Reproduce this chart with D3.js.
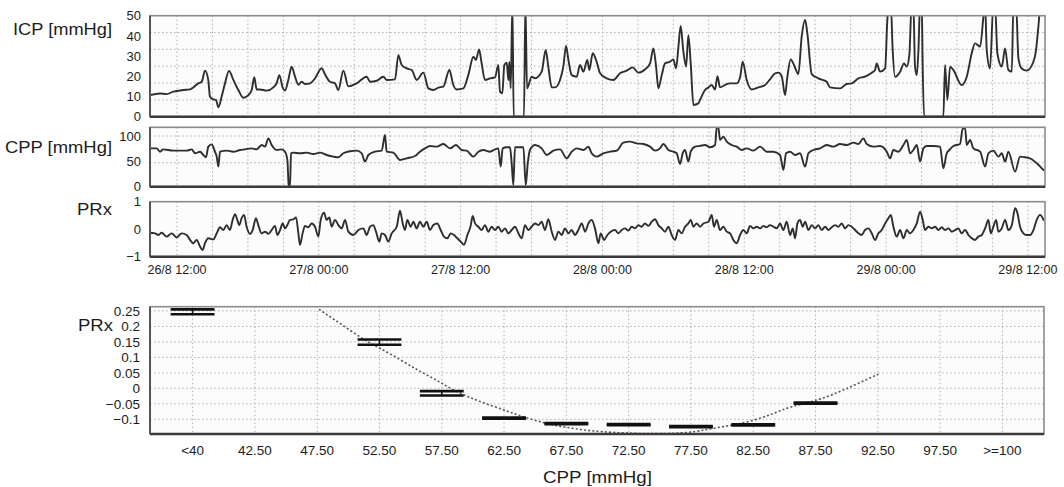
<!DOCTYPE html>
<html><head><meta charset="utf-8">
<script src="https://cdn.jsdelivr.net/npm/d3@7"></script>
<style>
html,body{margin:0;padding:0;background:#fff;}
svg{display:block;font-family:"Liberation Sans",Arial,Helvetica,sans-serif;}
</style></head>
<body><svg id="chart" width="1064" height="487"></svg>
<script>
// ---------------- DATA ----------------
// time in hours since 26/8 00:00
const timeTickHours = [12, 24, 36, 48, 60, 72, 84];
const timeTickLabels = ["26/8 12:00","27/8 00:00","27/8 12:00","28/8 00:00","28/8 12:00","29/8 00:00","29/8 12:00"];

const icpTicks = [0,10,20,30,40,50];
const cppTicks = [0,50,100];
const prxTicks = [-1,0,1];

const icpData = [
[9.71,10.7],[10.56,11.5],[11.12,11.2],[11.69,12.4],[12.53,13.2],[13.10,13.5],[13.38,14.5],[13.80,16.5],[14.09,17.3],[14.37,22.8],
[14.65,18],[14.79,9.9],[15.07,8.6],[15.30,8.3],[15.50,4.6],[15.78,10],[16.06,16.5],[16.40,22.7],[16.77,18.2],[17.19,13.2],
[17.61,9.4],[18.04,10.7],[18.32,13.2],[18.54,19.5],[18.74,13.5],[19.02,13.5],[19.59,12.9],[20.15,14.5],[20.43,16.5],[20.66,20.6],
[20.94,14.5],[21.14,12.9],[21.42,18.2],[21.70,24.8],[21.98,20],[22.27,15.8],[22.55,17.3],[22.83,16.2],[23.25,16.5],[23.68,19],
[24.24,24],[24.52,21],[24.95,17.3],[25.37,16.5],[25.65,13.2],[26.08,22.8],[26.50,15],[27.20,16.5],[28.05,19.8],[28.33,17.3],
[28.90,17.8],[29.46,19.8],[29.74,18.2],[30.45,18.5],[30.73,30.5],[31.01,25.6],[31.44,23.9],[31.86,23.1],[32.28,18.2],[32.85,21.8],
[33.27,14.0],[33.69,13.2],[34.12,14.4],[34.54,14.9],[35.05,23.1],[35.38,15.7],[35.67,13.5],[36.23,14.0],[36.65,20.6],[37.08,29.7],
[37.30,28.1],[37.56,33.3],[37.78,26.4],[38.06,18.2],[38.49,19.0],[38.91,19.5],[39.19,25.6],[39.33,12.4],[39.53,11.6],[39.70,25.6],
[39.90,26.7],[40.04,18.2],[40.12,27.2],[40.24,14.0],[40.38,56],[40.49,0],[41.36,0],[41.48,56],[41.62,14],[42.01,19.8],
[42.30,19.0],[42.86,22.3],[43.20,33.0],[43.42,24.8],[43.71,14.5],[43.99,14.5],[44.41,18.2],[44.69,24.8],[44.92,35.0],[45.12,28.1],
[45.40,20.6],[45.82,19.8],[46.10,25.6],[46.39,22.3],[46.72,28.1],[46.89,23.1],[47.18,31.4],[47.51,27.2],[47.80,21.5],[48.36,19.0],
[48.93,18.2],[49.49,21.5],[50.05,22.8],[50.56,24.4],[51.04,21.8],[51.60,23.4],[52.03,26.4],[52.31,33.8],[52.54,24.8],[52.73,14.0],
[53.02,20.6],[53.30,26.4],[53.72,27.2],[54.00,28.4],[54.23,23.9],[54.43,34.7],[54.62,44.9],[54.85,32.2],[55.08,24.8],[55.27,40.4],
[55.47,26.4],[55.70,5.8],[56.12,6.6],[56.26,8.3],[56.68,13.2],[56.97,14.5],[57.25,15.7],[57.53,13.5],[57.73,20.1],[57.95,14.5],
[58.38,15.7],[58.80,16.5],[59.36,16.5],[59.65,19.5],[59.87,27.2],[60.21,18.2],[60.63,13.5],[61.20,14.5],[61.76,15.7],[62.18,18.5],
[62.61,21.5],[62.89,21.8],[63.17,20.1],[63.45,10.7],[63.65,19.8],[63.93,28.4],[64.21,25.6],[64.58,21.1],[64.86,39.6],[65.15,47.9],
[65.34,41.3],[65.71,21.1],[66.27,19.0],[66.98,17.3],[67.26,14.5],[68.11,14.0],[68.67,16.2],[69.09,16.5],[69.66,19.0],[70.22,19.8],
[70.79,21.8],[71.07,23.1],[71.21,26.4],[71.49,22.3],[71.92,23.9],[72.11,47.9],[72.23,56],[72.40,56],[72.56,33],[72.76,19.8],
[73.19,22.3],[73.52,26.4],[73.75,24.8],[73.97,30.5],[74.17,56],[74.31,56],[74.45,24.8],[74.60,20.6],[74.74,33],[74.88,56],
[75.02,56],[75.10,24.8],[75.22,0],[76.85,0],[76.99,25.6],[77.19,8.3],[77.42,24.8],[77.70,23.1],[78.40,15.7],[78.83,19.8],
[79.25,31.4],[79.53,36.3],[79.96,34.7],[80.24,49.5],[80.38,56],[80.52,33],[80.80,23.9],[81.08,56],[81.22,56],[81.42,31.4],
[81.79,24.8],[82.07,33.8],[82.35,23.1],[82.64,22.3],[82.78,56],[83.00,56],[83.20,28.9],[83.48,23.9],[83.90,22.8],[84.47,27.2],
[84.69,33],[84.89,44.6],[85.09,56],[85.46,56]
];

const cppData = [
[9.71,75.7],[10.28,75.7],[10.56,69.1],[10.84,73.7],[11.69,71.1],[12.82,71.1],[13.24,73.7],[13.52,65.9],[13.95,69.1],[14.23,62.6],
[14.45,58],[14.65,79],[14.93,83.6],[15.21,69.1],[15.36,59.3],[15.50,39.6],[15.64,69.1],[16.20,71.1],[16.77,69.1],[17.33,72.4],
[17.75,73.7],[18.32,75.7],[18.74,73.7],[19.16,82.3],[19.45,79],[19.73,95.4],[20.01,82.3],[20.43,72.4],[20.86,73.7],[21.14,69.1],
[21.34,52.7],[21.45,3.4],[21.56,0],[21.65,65.9],[21.84,67.2],[22.41,65.9],[22.97,67.2],[23.54,64.5],[24.10,67.2],[24.66,62.6],
[25.23,59.3],[25.65,58],[26.08,65.9],[26.64,70],[27.20,71.1],[27.63,65.9],[27.91,49.4],[28.19,62.6],[28.76,69.1],[29.32,71.1],
[29.60,102],[29.74,69.1],[30.31,67.2],[30.87,52.7],[31.44,56],[32.14,60.6],[32.56,69.1],[32.99,75.7],[33.41,80.3],[33.97,79],
[34.54,84.3],[35.10,75.7],[35.61,82.3],[36.09,72.4],[36.51,71.1],[37.08,59.3],[37.50,69.1],[37.92,72.4],[38.49,69.1],[38.91,73.7],
[39.19,75.7],[39.39,39.6],[39.56,75.7],[39.90,77.7],[40.18,77.7],[40.32,46.1],[40.46,3.4],[40.60,77.7],[41.31,77.7],[41.51,3.4],
[41.68,46.1],[41.87,72.4],[42.30,82.3],[42.86,75.7],[43.28,62.6],[43.85,71.1],[44.41,73.7],[44.98,56],[45.40,69.1],[45.82,75.7],
[46.39,72.4],[46.81,79],[47.09,65.9],[47.51,59.3],[48.08,65.9],[48.64,69.1],[49.21,71.1],[49.77,86.9],[50.34,88.9],[50.90,85.6],
[51.46,84.3],[52.03,79],[52.45,71.1],[52.87,75.7],[53.16,84.3],[53.58,72.4],[54.00,69.1],[54.28,65.9],[54.57,44.8],[54.79,65.9],
[54.99,72.4],[55.27,49.4],[55.47,69.1],[55.84,79],[56.26,80.5],[56.68,82.3],[57.11,77.7],[57.53,82.3],[57.67,115.2],[57.81,117],
[57.95,92.2],[58.23,98.7],[58.52,88.9],[58.94,82.3],[59.36,79],[59.79,72.4],[60.21,75.7],[60.77,71.1],[61.34,79],[61.90,69.1],
[62.47,69.1],[63.03,62.6],[63.31,33],[63.54,65.9],[63.88,69.1],[64.30,62.6],[64.72,65.9],[65.15,39.6],[65.43,65.9],[65.85,72.4],
[66.42,75.7],[66.98,82.3],[67.54,79],[68.11,84.3],[68.67,82.3],[69.24,86.9],[69.66,84.3],[70.08,95.4],[70.36,84.3],[70.93,79],
[71.49,80.3],[72.06,69.1],[72.34,56],[72.62,72.4],[73.04,69.1],[73.47,82.3],[73.75,92.2],[74.03,65.9],[74.31,72.4],[74.60,82.3],
[74.88,49.4],[75.16,75.7],[75.44,80.3],[76.01,80.3],[76.57,79],[76.85,36.3],[77.13,65.9],[77.36,72.4],[77.70,80.3],[78.26,84.3],
[78.49,115.2],[78.69,115.2],[78.83,82.3],[79.11,92.2],[79.39,75.7],[79.96,69.1],[80.38,39.6],[80.66,65.9],[81.08,71.1],[81.51,59.3],
[81.79,65.9],[82.07,49.4],[82.35,69.1],[82.92,29.7],[83.34,59.3],[83.76,58],[84.19,56],[84.75,46.1],[85.18,36.3],[85.32,33]
];

const prxData = [
[9.71,-0.13],[10.14,-0.15],[10.42,-0.21],[10.70,-0.13],[11.12,-0.27],[11.55,-0.15],[11.97,-0.30],[12.39,-0.15],[12.82,-0.21],[13.10,-0.39],
[13.38,-0.51],[13.66,-0.39],[13.95,-0.63],[14.17,-0.76],[14.37,-0.51],[14.65,-0.33],[15.07,-0.37],[15.36,-0.15],[15.64,0.07],[15.92,-0.03],
[16.20,0.15],[16.48,-0.03],[16.71,0.34],[16.91,0.55],[17.10,0.34],[17.27,0.15],[17.47,0.40],[17.67,0.52],[17.89,0.09],[18.18,-0.17],
[18.40,-0.03],[18.68,0.40],[18.88,0.15],[19.16,-0.15],[19.45,-0.09],[19.73,-0.17],[20.01,-0.03],[20.29,0.12],[20.49,-0.21],[20.72,-0.03],
[20.94,0.21],[21.14,0.03],[21.34,0.15],[21.56,0.34],[21.84,0.36],[22.07,0.43],[22.27,-0.15],[22.41,-0.57],[22.63,-0.15],[22.83,0.12],
[23.11,0.07],[23.40,0.21],[23.68,0.09],[23.96,-0.27],[24.16,0.34],[24.44,0.60],[24.66,0.34],[24.89,0.43],[25.09,0.09],[25.37,0.34],
[25.65,0.15],[25.94,0.03],[26.22,0.34],[26.50,-0.09],[26.92,-0.21],[27.35,-0.03],[27.77,0.03],[28.05,-0.21],[28.33,0.09],[28.61,0.15],
[28.84,-0.09],[29.12,-0.45],[29.32,-0.15],[29.60,-0.21],[29.88,-0.45],[30.17,-0.15],[30.59,0.09],[30.87,0.67],[31.10,0.21],[31.29,-0.03],
[31.49,0.34],[31.77,0.09],[32.00,0.27],[32.28,0.03],[32.56,0.27],[32.85,0.09],[33.13,0.27],[33.41,-0.03],[33.69,0.15],[34.03,0.21],
[34.31,-0.03],[34.59,-0.27],[34.88,-0.33],[35.16,-0.15],[35.44,-0.21],[35.72,-0.33],[36.01,-0.45],[36.29,-0.57],[36.57,-0.21],[36.85,0.12],
[37.02,0.48],[37.22,0.21],[37.50,0.09],[37.78,-0.03],[38.06,0.15],[38.35,-0.09],[38.63,0.09],[38.91,-0.03],[39.19,0.09],[39.47,-0.09],
[39.76,0.03],[40.04,-0.15],[40.32,-0.03],[40.60,0.09],[40.89,-0.15],[41.17,-0.33],[41.45,0.15],[41.73,-0.03],[42.01,0.09],[42.30,0.21],
[42.58,0.15],[42.86,0.27],[43.14,-0.03],[43.42,0.36],[43.71,-0.09],[43.99,-0.39],[44.27,-0.09],[44.55,-0.21],[44.83,0.03],[45.12,-0.15],
[45.40,-0.03],[45.68,-0.21],[45.96,-0.03],[46.25,0.21],[46.53,-0.09],[46.81,0.21],[47.09,0.34],[47.37,0.03],[47.66,-0.51],[47.85,-0.15],
[48.14,-0.39],[48.42,-0.21],[48.70,-0.09],[49.07,-0.03],[49.35,-0.15],[49.63,-0.03],[49.91,0.03],[50.19,-0.05],[50.48,0.09],[50.76,0.03],
[51.04,0.15],[51.32,0.09],[51.60,0.21],[51.89,0.12],[52.17,0.27],[52.45,0.36],[52.73,0.15],[53.02,0.03],[53.30,-0.09],[53.58,0.09],
[53.86,-0.21],[54.14,-0.39],[54.43,-0.03],[54.71,-0.15],[54.99,0.09],[55.27,0.21],[55.47,0.34],[55.70,0.09],[55.98,0.21],[56.26,0.09],
[56.54,0.21],[56.97,0.27],[57.25,0.52],[57.44,0.09],[57.67,0.34],[57.95,-0.03],[58.23,0.09],[58.52,-0.09],[58.80,-0.15],[59.08,-0.39],
[59.36,-0.51],[59.65,-0.21],[59.93,-0.03],[60.21,-0.15],[60.49,0.12],[60.77,0.03],[61.06,0.09],[61.34,0.03],[61.62,0.12],[61.90,0.07],
[62.18,0.15],[62.47,0.09],[62.75,0.03],[63.03,0.21],[63.31,-0.03],[63.59,0.27],[63.88,-0.21],[64.10,0.03],[64.30,-0.33],[64.50,0.21],
[64.72,0.34],[64.95,0.09],[65.15,0.27],[65.43,-0.03],[65.71,0.15],[65.99,0.03],[66.27,0.15],[66.56,-0.03],[66.84,0.09],[67.12,-0.03],
[67.40,0.07],[67.68,0.15],[67.97,0.09],[68.25,0.21],[68.53,0.03],[68.81,0.15],[69.09,0.09],[69.38,-0.03],[69.66,-0.15],[69.94,-0.21],
[70.22,-0.03],[70.51,0.03],[70.79,-0.15],[71.07,-0.39],[71.35,-0.15],[71.63,-0.03],[71.92,0.21],[72.20,0.40],[72.40,0.52],[72.62,0.09],
[72.90,-0.27],[73.19,-0.03],[73.47,-0.33],[73.75,-0.03],[74.03,-0.15],[74.31,-0.03],[74.60,0.21],[74.88,0.64],[75.10,0.34],[75.30,-0.03],
[75.58,0.09],[75.87,0.03],[76.15,0.09],[76.43,-0.03],[76.71,0.07],[76.99,-0.03],[77.28,0.03],[77.56,-0.09],[77.84,-0.03],[78.12,0.03],
[78.40,-0.15],[78.69,-0.03],[78.97,-0.21],[79.25,-0.33],[79.53,-0.39],[79.81,-0.27],[80.10,-0.21],[80.38,0.03],[80.66,0.34],[80.86,-0.15],
[81.08,0.09],[81.31,0.34],[81.51,-0.09],[81.79,0.03],[82.07,0.34],[82.35,-0.03],[82.64,0.15],[82.92,0.76],[83.12,0.58],[83.34,0.09],
[83.62,-0.15],[83.90,-0.21],[84.19,-0.21],[84.47,-0.03],[84.75,0.34],[85.03,0.52],[85.32,0.34]
];

// lower chart: PRx binned by CPP
const binLabels = ["<40","42.50","47.50","52.50","57.50","62.50","67.50","72.50","77.50","82.50","87.50","92.50","97.50",">=100"];
const binCenters = [37.5,42.5,47.5,52.5,57.5,62.5,67.5,72.5,77.5,82.5,87.5,92.5,97.5,102.5];
const binMean = [0.2475,null,null,0.1495,-0.016,-0.096,-0.114,-0.1175,-0.124,-0.118,-0.048,null,null,null];
const binErr  = [0.008,null,null,0.0085,0.007,0.0018,0.0018,0.0018,0.0018,0.0018,0.0018,null,null,null];
const prxTicksB = [0.25,0.2,0.15,0.1,0.05,0,-0.05,-0.1];
const prxTickLabelsB = ["0.25","0.2","0.15","0.1","0.05","0","\u22120.05","\u22120.1"];
const fitCPP = [47.65,48.85,50.2,51.5,52.6,54.2,55.55,56.85,57.6,58.2,59.55,60.9,62.55,63.55,64.9,66.25,67.55,68.9,70.25,72.5,74.8,77.45,78.5,79.6,80.95,82.55,84.15,85.45,87.6,89.45,90.8,92.55];
const fitPRx = [0.2555,0.223,0.186,0.151,0.129,0.092,0.059,0.032,0.014,0.0,-0.027,-0.048,-0.070,-0.086,-0.102,-0.118,-0.126,-0.135,-0.140,-0.145,-0.1475,-0.143,-0.135,-0.127,-0.118,-0.1045,-0.081,-0.059,-0.040,-0.011,0.014,0.046];

// ---------------- DRAWING ----------------
const svg = d3.select("#chart");
const TXT = "#1c1c1c";
const GRID = "#b0b0b0";

const X0 = 150, X1 = 1045;
const xT = d3.scaleLinear().domain([9.715, 85.45]).range([X0, X1]);

const panels = [
  {key:"icp", y0:15.7, y1:116.7, scale:d3.scaleLinear().domain([0,50]).range([116.7,15.7]),
   data:icpData, ticks:icpTicks, tickFmt:d=>String(d), hgrid:[50/6,100/6,25,100/3,250/6],
   title:"ICP [mmHg]", tx:13, tbase:35, tlen:99},
  {key:"cpp", y0:127.3, y1:186.7, scale:d3.scaleLinear().domain([0,117.2]).range([186.7,127.3]),
   data:cppData, ticks:cppTicks, tickFmt:d=>String(d), hgrid:[47.3,100],
   title:"CPP [mmHg]", tx:5, tbase:152.5, tlen:107},
  {key:"prx", y0:201.7, y1:256.7, scale:d3.scaleLinear().domain([-1,1]).range([256.7,201.7]),
   data:prxData, ticks:prxTicks, tickFmt:d=>d<0?"\u2212"+Math.abs(d):String(d), hgrid:[],
   title:"PRx", tx:77, tbase:215, tlen:35}
];

const defs = svg.append("defs");

function frame(g, x0, x1, y0, y1){
  g.append("rect").attr("x",x0).attr("y",y0).attr("width",x1-x0).attr("height",y1-y0)
    .attr("fill","none").attr("stroke","#8c8c8c").attr("stroke-width",1.6);
  g.append("line").attr("x1",x0).attr("x2",x1).attr("y1",y1).attr("y2",y1)
    .attr("stroke","#3a3a3a").attr("stroke-width",2.4);
  g.append("line").attr("x1",x0).attr("x2",x0).attr("y1",y0).attr("y2",y1)
    .attr("stroke","#555").attr("stroke-width",2);
}

const gridHours = d3.range(12, 85, 3);

panels.forEach(p=>{
  const g = svg.append("g");
  g.append("rect").attr("x",X0).attr("y",p.y0).attr("width",X1-X0).attr("height",p.y1-p.y0).attr("fill","#fcfcfc");
  g.selectAll(".vg").data(gridHours).join("line")
    .attr("x1",d=>xT(d)).attr("x2",d=>xT(d)).attr("y1",p.y0).attr("y2",p.y1)
    .attr("stroke",GRID).attr("stroke-width",1).attr("stroke-dasharray","1.5,2.5");
  g.selectAll(".hg").data(p.hgrid).join("line")
    .attr("x1",X0).attr("x2",X1).attr("y1",d=>p.scale(d)).attr("y2",d=>p.scale(d))
    .attr("stroke",GRID).attr("stroke-width",1).attr("stroke-dasharray","1.5,2.5");
  defs.append("clipPath").attr("id","clip-"+p.key).append("rect")
    .attr("x",X0).attr("y",p.y0).attr("width",X1-X0).attr("height",p.y1-p.y0);
  const line = d3.line().x(d=>xT(d[0])).y(d=>p.scale(d[1])).curve(d3.curveMonotoneX);
  g.append("path").datum(p.data).attr("d",line).attr("clip-path","url(#clip-"+p.key+")")
    .attr("fill","none").attr("stroke","#2e2e2e").attr("stroke-width",1.9)
    .attr("stroke-linejoin","round").attr("stroke-linecap","round");
  frame(g, X0, X1, p.y0, p.y1);
  g.selectAll(".yt").data(p.ticks).join("text")
    .attr("x",141).attr("y",d=>p.scale(d)).attr("dy","0.36em")
    .attr("text-anchor","end").attr("font-size",13).attr("fill",TXT).text(p.tickFmt);
  g.append("text").attr("x",p.tx).attr("y",p.tbase).attr("font-size",16).attr("fill",TXT)
    .attr("textLength",p.tlen).attr("lengthAdjust","spacingAndGlyphs").text(p.title);
});

svg.append("g").selectAll("text").data(timeTickHours).join("text")
  .attr("x",d=>xT(d)).attr("y",273.5).attr("text-anchor","middle")
  .attr("font-size",12.5).attr("fill",TXT)
  .text((d,i)=>timeTickLabels[i]);

// ---------------- lower chart ----------------
const BX0 = 150, BX1 = 1044, BY0 = 306.7, BY1 = 434;
const xC = d3.scaleLinear().domain([34.08, 105.84]).range([BX0, BX1]);
const yB = d3.scaleLinear().domain([-0.1475, 0.264]).range([BY1, BY0]);
const gb = svg.append("g");
gb.append("rect").attr("x",BX0).attr("y",BY0).attr("width",BX1-BX0).attr("height",BY1-BY0).attr("fill","#fcfcfc");
gb.selectAll(".vg").data(binCenters).join("line")
  .attr("x1",d=>xC(d)).attr("x2",d=>xC(d)).attr("y1",BY0).attr("y2",BY1)
  .attr("stroke",GRID).attr("stroke-width",1).attr("stroke-dasharray","1.5,2.5");
gb.selectAll(".hg").data(prxTicksB).join("line")
  .attr("x1",BX0).attr("x2",BX1).attr("y1",d=>yB(d)).attr("y2",d=>yB(d))
  .attr("stroke",GRID).attr("stroke-width",1).attr("stroke-dasharray","1.5,2.5");

defs.append("clipPath").attr("id","clip-b").append("rect")
  .attr("x",BX0).attr("y",BY0).attr("width",BX1-BX0).attr("height",BY1-BY0);

const fitPts = fitCPP.map((c,i)=>[c, fitPRx[i]]);
gb.append("path").datum(fitPts)
  .attr("d", d3.line().x(d=>xC(d[0])).y(d=>yB(d[1])).curve(d3.curveBasis))
  .attr("clip-path","url(#clip-b)")
  .attr("fill","none").attr("stroke","#555").attr("stroke-width",1.6).attr("stroke-dasharray","2,2.2");

const halfW = 1.76; // in CPP units
const bins = binCenters.map((c,i)=>({c, m:binMean[i], e:binErr[i]})).filter(d=>d.m!==null);
const gbar = gb.append("g").attr("stroke","#111").attr("stroke-width",2.6);
bins.forEach(d=>{
  [d.m + d.e, d.m - d.e].forEach(v=>{
    gbar.append("line").attr("x1",xC(d.c-halfW)).attr("x2",xC(d.c+halfW))
      .attr("y1",yB(v)).attr("y2",yB(v));
  });
  gbar.append("line").attr("x1",xC(d.c)).attr("x2",xC(d.c))
    .attr("y1",yB(d.m+d.e)).attr("y2",yB(d.m-d.e)).attr("stroke-width",1.6);
});

frame(gb, BX0, BX1, BY0, BY1);

gb.selectAll(".yt").data(prxTicksB).join("text")
  .attr("x",140).attr("y",d=>yB(d)).attr("dy","0.36em").attr("text-anchor","end")
  .attr("font-size",13.5).attr("fill",TXT).text((d,i)=>prxTickLabelsB[i]);
gb.selectAll(".xt").data(binCenters).join("text")
  .attr("x",d=>xC(d)).attr("y",455).attr("text-anchor","middle")
  .attr("font-size",13.5).attr("fill",TXT).text((d,i)=>binLabels[i]);
gb.append("text").attr("x",78).attr("y",330.5).attr("font-size",16).attr("fill",TXT)
  .attr("textLength",35).attr("lengthAdjust","spacingAndGlyphs").text("PRx");
gb.append("text").attr("x",543).attr("y",483).attr("font-size",16.5).attr("fill",TXT)
  .attr("textLength",109).attr("lengthAdjust","spacingAndGlyphs").text("CPP [mmHg]");
</script>
</body></html>
